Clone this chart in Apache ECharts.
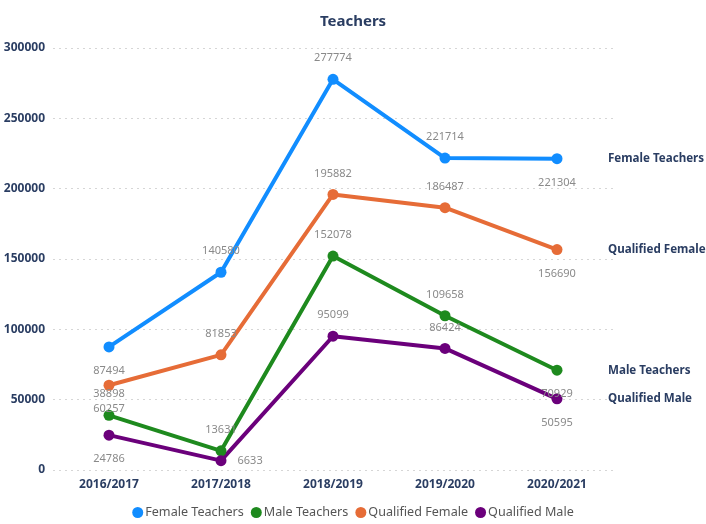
<!DOCTYPE html>
<html>
<head>
<meta charset="utf-8">
<script src="https://cdn.jsdelivr.net/npm/echarts@6/dist/echarts.min.js"></script>
<style>
  html, body { margin: 0; padding: 0; background: #fff; }
  #container { width: 706px; height: 524px; }
</style>
</head>
<body>
<div id="container"></div>
<script>
// data
var categories = ['2016/2017', '2017/2018', '2018/2019', '2019/2020', '2020/2021'];
var femaleTeachers = [87494, 140580, 277774, 221714, 221304];
var maleTeachers = [38898, 13631, 152078, 109658, 70929];
var qualifiedFemale = [60257, 81853, 195882, 186487, 156690];
var qualifiedMale = [24786, 6633, 95099, 86424, 50595];
var yTicks = [0, 50000, 100000, 150000, 200000, 250000, 300000];

// where each value label sits (top / bottom / right)
var labelPos = {
    'Female Teachers': ['bottom', 'top', 'top', 'top', 'bottom'],
    'Male Teachers': ['top', 'top', 'top', 'top', 'bottom'],
    'Qualified Female': ['bottom', 'top', 'top', 'top', 'bottom'],
    'Qualified Male': ['bottom', 'right', 'top', 'top', 'bottom']
};

var navy = '#2a3d62';
var font = '"Noto Sans", "Open Sans", sans-serif';

var dom = document.getElementById('container');
var myChart = echarts.init(dom);

function makeSeries(name, values, color) {
    var pos = labelPos[name];
    return {
        name: name,
        type: 'line',
        symbol: 'circle',
        symbolSize: 11,
        color: color,
        lineStyle: { width: 4, color: color },
        itemStyle: { color: color },
        label: {
            show: true,
            color: '#8a8a8a',
            fontSize: 11,
            fontFamily: font
        },
        endLabel: {
            show: true,
            formatter: '{a}',
            color: navy,
            fontWeight: 'bold',
            fontSize: 11.6,
            fontFamily: font,
            distance: 51
        },
        data: values.map(function (v, i) {
            var p = pos[i];
            return {
                value: v,
                label: {
                    position: p,
                    distance: p === 'top' ? 10 : (p === 'bottom' ? 13 : 11)
                }
            };
        })
    };
}

myChart.setOption({
    animation: false,
    title: {
        text: 'Teachers',
        left: 'center',
        top: 9,
        textStyle: { color: navy, fontSize: 15, fontWeight: 'bold', fontFamily: font }
    },
    legend: {
        bottom: 0,
        left: 'center',
        icon: 'circle',
        itemWidth: 11,
        itemHeight: 11,
        itemGap: 7,
        textStyle: { color: '#555', fontSize: 12.6, fontFamily: font, padding: [0, 0, 0, -3] },
        data: ['Female Teachers', 'Male Teachers', 'Qualified Female', 'Qualified Male']
    },
    grid: {
        left: 53,
        right: 93,
        top: 48,
        bottom: 54,
        containLabel: false
    },
    xAxis: {
        type: 'category',
        data: categories,
        boundaryGap: true,
        axisLine: { show: false },
        axisTick: { show: false },
        axisLabel: { color: navy, fontWeight: 'bold', fontSize: 12, fontFamily: font, margin: 9 }
    },
    yAxis: {
        type: 'value',
        min: yTicks[0],
        max: yTicks[yTicks.length - 1],
        interval: 50000,
        axisLabel: {
            color: navy, fontWeight: 'bold', fontSize: 12, fontFamily: font, margin: 8,
            formatter: function (v) { return String(v); }
        },
        splitLine: { lineStyle: { type: [2, 4], color: '#d6d6d6', width: 1 } }
    },
    series: [
        makeSeries('Female Teachers', femaleTeachers, '#118DFF'),
        makeSeries('Male Teachers', maleTeachers, '#1E8A1E'),
        makeSeries('Qualified Female', qualifiedFemale, '#E66C37'),
        makeSeries('Qualified Male', qualifiedMale, '#6B007B')
    ]
});
</script>
</body>
</html>
